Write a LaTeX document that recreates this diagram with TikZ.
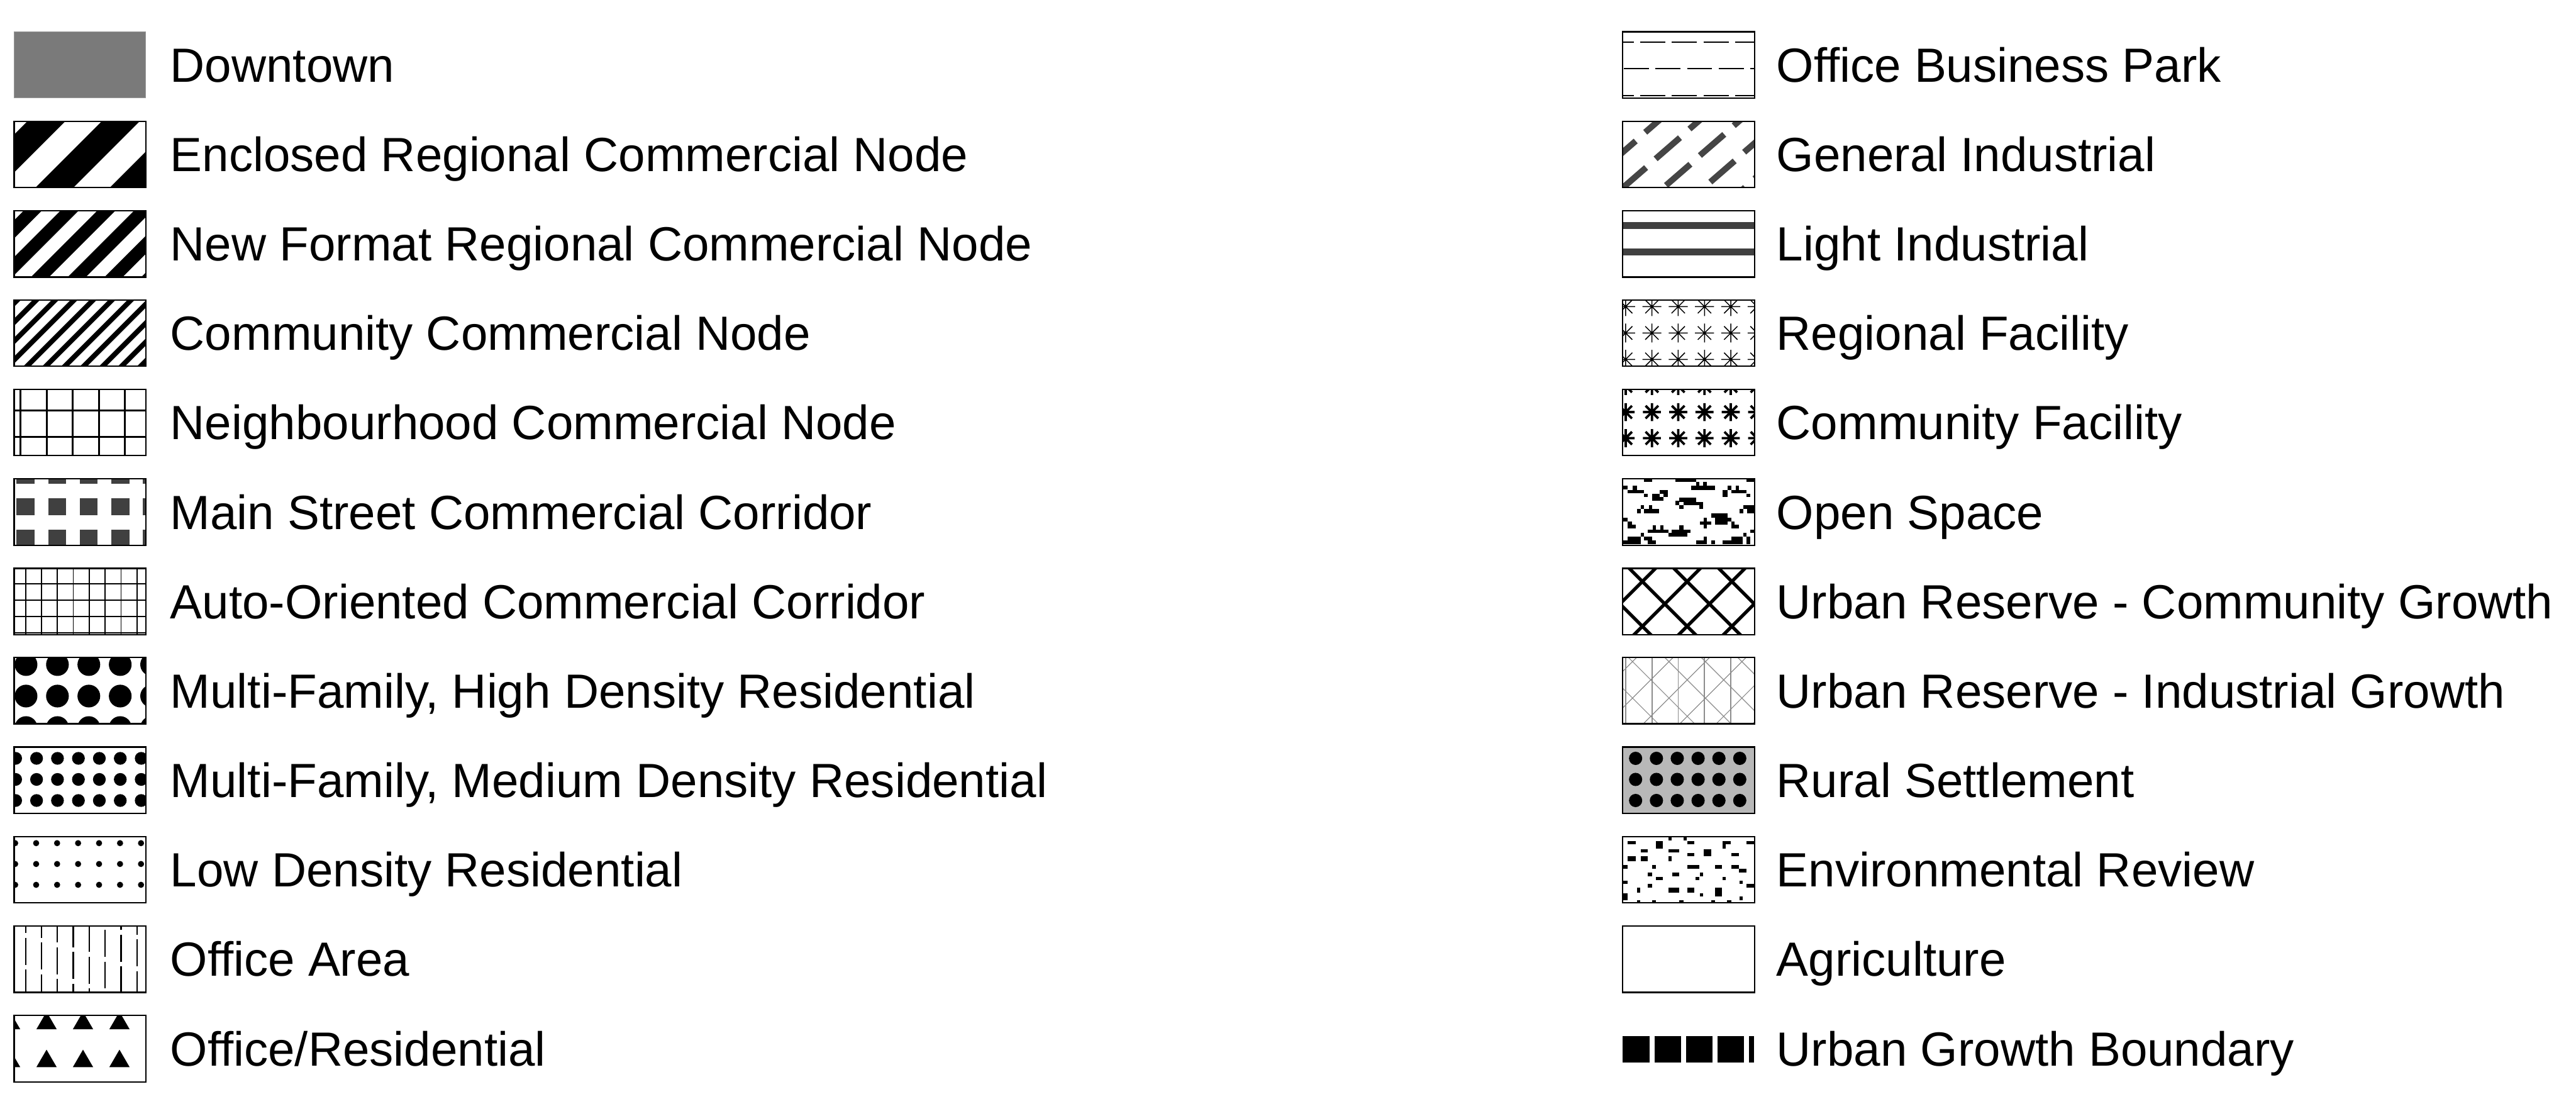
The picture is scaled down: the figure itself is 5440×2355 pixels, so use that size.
\documentclass[tikz,border=0pt]{standalone}
\usepackage{fontspec}
\setmainfont{Liberation Sans}
\begin{document}
\begin{tikzpicture}[x=0.1mm,y=-0.1mm,line cap=butt]
	\tikzstyle{box}=[draw=black,line width=0.3mm];
	\tikzstyle{lbl}=[anchor=base west,inner sep=0pt,font=\fontsize{28.85pt}{34pt}\selectfont];
	\tikzstyle{ink}=[fill=black!75];
	\tikzstyle{grayline}=[draw=black!45];
	\useasboundingbox (0,0) rectangle (5440,2355);

	\fill[black!52] (30,67) rectangle +(278,140);
	\draw[black!40,line width=0.15mm] (30,67) rectangle +(278,140);

	\begin{scope}[shift={(30,256)}]
		\clip (0,0) rectangle (278,140);
		\foreach \c in {-89,68,...,540} \draw[line width=5.66mm] (\c-200,200) -- (\c+200,-200);
	\end{scope}
	\draw[box] (30,256) rectangle +(278,140);

	\begin{scope}[shift={(30,445)}]
		\clip (0,0) rectangle (278,140);
		\foreach \c in {-116.4,-38.7,...,500} \draw[line width=2.7mm] (\c-200,200) -- (\c+200,-200);
	\end{scope}
	\draw[box] (30,445) rectangle +(278,140);

	\begin{scope}[shift={(30,633)}]
		\clip (0,0) rectangle (278,140);
		\foreach \c in {-33,7,...,470} \draw[line width=1.06mm] (\c-200,200) -- (\c+200,-200);
	\end{scope}
	\draw[box] (30,633) rectangle +(278,140);

	\begin{scope}[shift={(30,822)}]
		\clip (0,0) rectangle (278,140);
		\foreach \x in {13,68.3,...,250} \draw[line width=0.4mm] (\x,0) -- (\x,140);
		\foreach \y in {45,101} \draw[line width=0.4mm] (0,\y) -- (278,\y);
	\end{scope}
	\draw[box] (30,822) rectangle +(278,140);

	\begin{scope}[shift={(30,1011)}]
		\clip (0,0) rectangle (278,140);
		\foreach \x in {5,71.7,...,280} \foreach \y in {-25.7,41,107.7} \fill[ink] (\x,\y) rectangle +(38,36);
	\end{scope}
	\draw[box] (30,1011) rectangle +(278,140);

	\begin{scope}[shift={(30,1200)}]
		\clip (0,0) rectangle (278,140);
		\foreach \x in {24,57.6,...,270} \draw[line width=0.25mm] (\x,0) -- (\x,140);
		\foreach \y in {32,66.7,...,140} \draw[line width=0.25mm] (0,\y) -- (278,\y);
	\end{scope}
	\draw[box] (30,1200) rectangle +(278,140);

	\begin{scope}[shift={(30,1388)}]
		\clip (0,0) rectangle (278,140);
		\foreach \x in {25,91.3,...,300} \foreach \y in {15,81.5,148} \fill (\x,\y) circle (2.4mm);
	\end{scope}
	\draw[box] (30,1388) rectangle +(278,140);

	\begin{scope}[shift={(30,1577)}]
		\clip (0,0) rectangle (278,140);
		\foreach \x in {3,47.2,...,280} \foreach \y in {24,68.5,113} \fill (\x,\y) circle (1.35mm);
	\end{scope}
	\draw[box] (30,1577) rectangle +(278,140);

	\begin{scope}[shift={(30,1766)}]
		\clip (0,0) rectangle (278,140);
		\foreach \x in {2,46.3,...,280} \foreach \y in {14,58,102} \fill (\x,\y) circle (0.65mm);
	\end{scope}
	\draw[box] (30,1766) rectangle +(278,140);

	\begin{scope}[shift={(30,1955)}]
		\clip (0,0) rectangle (278,140);
		\foreach \k in {0,...,7} \draw[line width=0.3mm,dash pattern=on 5.7mm off 1mm] ({24+33.6*\k},{10*\k-109}) -- ++(0,300);
	\end{scope}
	\draw[box] (30,1955) rectangle +(278,140);

	\begin{scope}[shift={(30,2144)}]
		\clip (0,0) rectangle (278,140);
		\foreach \x in {-8.7,68.3,...,300} \foreach \y in {29,109} \fill (\x,\y-37) -- (\x-21.5,\y) -- (\x+21.5,\y) -- cycle;
	\end{scope}
	\draw[box] (30,2144) rectangle +(278,140);

	\begin{scope}[shift={(3427,67)}]
		\clip (0,0) rectangle (278,140);
		\draw[line width=0.3mm,dash pattern=on 5.3mm off 1.37mm] (-29.7,22) -- ++(400,0);
		\draw[line width=0.3mm,dash pattern=on 5.3mm off 1.37mm] (-64.4,78) -- ++(400,0);
		\draw[line width=0.3mm,dash pattern=on 5.3mm off 1.37mm] (-29.7,135) -- ++(400,0);
	\end{scope}
	\draw[box] (3427,67) rectangle +(278,140);

	\begin{scope}[shift={(3427,256)}]
		\clip (0,0) rectangle (278,140);
		\foreach \i in {-2,...,3} \foreach \j in {-2,...,2}
			\draw[black!73,line width=1.3mm] ({95+93.5*\i+22*\j-25.7},{57-7*\i+56*\j+22.3}) -- ++(51.4,-44.6);
	\end{scope}
	\draw[box] (3427,256) rectangle +(278,140);

	\begin{scope}[shift={(3427,445)}]
		\fill[ink] (0,23.3) rectangle (278,38.3);
		\fill[ink] (0,79.3) rectangle (278,94.3);
	\end{scope}
	\draw[box] (3427,445) rectangle +(278,140);

	\begin{scope}[shift={(3427,633)}]
		\clip (0,0) rectangle (278,140);
		\foreach \x in {6,61.5,...,300} \foreach \y in {14.3,70,125.7}
			\draw[line width=0.2mm] (\x-20,\y) -- (\x+20,\y) (\x,\y-20) -- (\x,\y+20) (\x-14.1,\y-14.1) -- (\x+14.1,\y+14.1) (\x-14.1,\y+14.1) -- (\x+14.1,\y-14.1);
	\end{scope}
	\draw[box] (3427,633) rectangle +(278,140);

	\begin{scope}[shift={(3427,822)}]
		\clip (0,0) rectangle (278,140);
		\foreach \x in {6,61.5,...,300} \foreach \y in {-7,48,103}
			\draw[line width=0.5mm] (\x-19,\y) -- (\x+19,\y) (\x,\y-19) -- (\x,\y+19) (\x-13.4,\y-13.4) -- (\x+13.4,\y+13.4) (\x-13.4,\y+13.4) -- (\x+13.4,\y-13.4);
	\end{scope}
	\draw[box] (3427,822) rectangle +(278,140);

	\begin{scope}[shift={(3427,1011)}]
		\clip (0,0) rectangle (278,140);
		\begin{scope}[shift={(-27,-211.7)},scale=0.3333]
			\foreach \a/\b/\c/\d in {215/635/265/655, 415/635/545/655, 865/635/918/655, 545/655/565/680, 590/655/615/680,
				515/680/665/705, 85/680/110/700, 145/680/170/705, 110/705/215/725, 215/730/240/750,
				265/730/315/775, 315/750/340/775, 315/705/365/730, 340/730/365/750, 440/755/545/780,
				465/780/590/800, 415/775/440/800, 440/800/465/825, 565/800/590/825, 745/680/770/705,
				795/680/815/705, 770/705/865/725, 715/705/745/750, 865/730/890/750, 195/800/215/825,
				245/800/265/825, 215/825/310/855, 170/825/195/855, 845/800/870/825, 870/800/918/855,
				820/825/845/855, 85/880/110/905, 110/905/140/925, 110/925/165/950, 640/855/665/880,
				665/855/745/925, 745/880/770/905, 770/905/790/925, 770/925/815/950, 570/905/640/925,
				595/880/615/950, 270/930/290/955, 320/930/340/955, 240/955/370/975, 440/930/465/955,
				390/955/490/975, 370/975/490/1000, 490/955/510/975, 890/955/918/975, 195/975/215/1000,
				110/1000/195/1050, 215/1000/265/1025, 240/1025/290/1050, 85/1025/110/1050, 595/1000/615/1025,
				545/1025/615/1050, 640/1025/665/1050, 715/1025/770/1050, 770/1000/840/1050, 845/975/865/1000,
				865/1000/890/1050}
				\fill (\a,\b) rectangle (\c,\d);
		\end{scope}
	\end{scope}
	\draw[box] (3427,1011) rectangle +(278,140);

	\begin{scope}[shift={(3427,1200)}]
		\clip (0,0) rectangle (278,140);
		\foreach \d in {-175.4,-80.9,...,300} \draw[line width=0.7mm] (\d-50,-50) -- (\d+200,200);
		\foreach \s in {-25.5,69,...,450} \draw[line width=0.7mm] (\s+50,-50) -- (\s-200,200);
	\end{scope}
	\draw[box] (3427,1200) rectangle +(278,140);

	\begin{scope}[shift={(3427,1388)}]
		\clip (0,0) rectangle (278,140);
		\foreach \x in {6,61.5,...,240} \draw[grayline,line width=0.22mm] (\x,0) -- (\x,140);
		\foreach \d in {-142.3,-65.3,...,280} \draw[grayline,line width=0.15mm] (\d-50,-50) -- (\d+200,200);
		\foreach \s in {29.3,106.3,...,420} \draw[grayline,line width=0.15mm] (\s+50,-50) -- (\s-200,200);
	\end{scope}
	\draw[box] (3427,1388) rectangle +(278,140);

	\begin{scope}[shift={(3427,1577)}]
		\fill[black!28] (0,0) rectangle (278,140);
		\foreach \x in {27,71,...,250} \foreach \y in {24,68.5,113} \fill (\x,\y) circle (1.4mm);
	\end{scope}
	\draw[box] (3427,1577) rectangle +(278,140);

	\begin{scope}[shift={(3427,1766)}]
		\clip (0,0) rectangle (278,140);
		\begin{scope}[shift={(-27,-206.7)},scale=0.3333]
			\foreach \a/\b/\c/\d in {110/650/165/670, 290/650/335/695, 370/625/390/645, 465/625/485/645, 490/650/535/670,
				715/650/765/670, 715/670/735/695, 865/650/918/670, 195/700/240/720, 370/700/440/720,
				490/725/535/745, 595/700/640/745, 770/725/815/745, 110/745/165/775, 195/745/240/775,
				370/745/390/775, 85/800/110/825, 265/800/290/825, 490/800/565/825, 665/800/710/825,
				770/800/815/825, 815/825/865/848, 240/850/265/872, 290/875/335/897, 395/850/440/872,
				570/850/590/872, 540/875/565/897, 715/875/735/897, 85/900/110/920, 240/920/265/945,
				820/900/840/920, 865/920/918/945, 170/945/190/975, 370/945/440/975, 490/945/535/975,
				570/980/590/1000, 665/945/710/1000, 820/1000/840/1025, 85/980/110/1025, 170/1025/190/1040,
				265/1025/290/1040, 440/1025/465/1040, 640/1025/665/1040, 740/1025/770/1040}
				\fill (\a,\b) rectangle (\c,\d);
		\end{scope}
	\end{scope}
	\draw[box] (3427,1766) rectangle +(278,140);

	\draw[box] (3427,1955) rectangle +(278,140);

	\draw[line width=5.6mm,dash pattern=on 5.6mm off 1.07mm] (3427,2215) -- (3704,2215);

	\foreach \name/\txt [count=\i from 0] in {dt/Downtown, erc/Enclosed Regional Commercial Node,
		nfr/New Format Regional Commercial Node, ccn/Community Commercial Node,
		ncn/Neighbourhood Commercial Node, msc/Main Street Commercial Corridor,
		aoc/Auto-Oriented Commercial Corridor, mfh/{Multi-Family, High Density Residential},
		mfm/{Multi-Family, Medium Density Residential}, ldr/Low Density Residential,
		oa/Office Area, ofr/{Office/Residential}}
		\node[lbl] (\name) at (359,173+188.8*\i) {\txt};

	\foreach \name/\txt [count=\i from 0] in {obp/Office Business Park, gi/General Industrial,
		li/Light Industrial, rf/Regional Facility, cf/Community Facility, os/Open Space,
		urc/Urban Reserve - Community Growth, uri/Urban Reserve - Industrial Growth,
		rs/Rural Settlement, er/Environmental Review, ag/Agriculture, ugb/Urban Growth Boundary}
		\node[lbl] (\name) at (3751,173+188.8*\i) {\txt};
\end{tikzpicture}
\end{document}
